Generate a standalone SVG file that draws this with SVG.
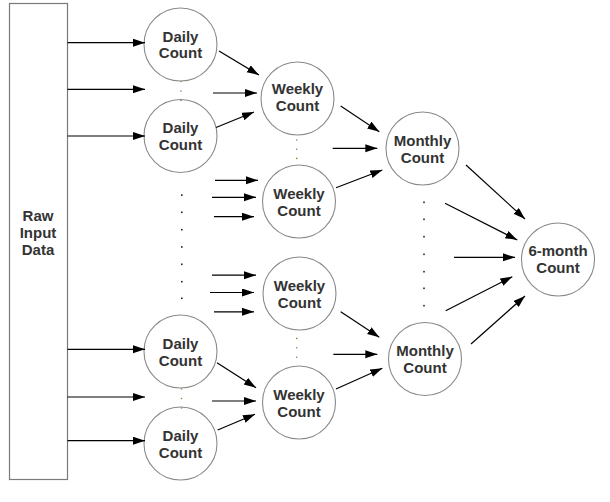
<svg xmlns="http://www.w3.org/2000/svg" width="610" height="502" viewBox="0 0 610 502">
<style>
.node circle{fill:#fff;stroke:#8a8a8a;stroke-width:1.1}
.node rect{fill:#fff;stroke:#7a7a7a;stroke-width:1.2}
text{font-family:"Liberation Sans",Arial,sans-serif;font-weight:bold;font-size:15px;fill:#333;text-anchor:middle}
.conn line{stroke:#000;stroke-width:1.2;marker-end:url(#ah)}
.dot{fill:#222}
.fdot{fill:#a07840}
</style>
<defs>
<marker id="ah" markerUnits="userSpaceOnUse" markerWidth="13" markerHeight="9" refX="12" refY="4" orient="auto">
<path d="M0,0 L12,4 L0,8 Z" fill="#000"/>
</marker>
</defs>
<rect width="610" height="502" fill="#fff"/>
<g id="raw" class="node"><rect x="9.5" y="3.5" width="58" height="476"/><text x="38" y="221">Raw</text><text x="38" y="238">Input</text><text x="38" y="255">Data</text></g>
<g id="daily1" class="node"><circle cx="180.5" cy="44.5" r="36.5"/><text x="180.5" y="41.5">Daily</text><text x="180.5" y="58.3">Count</text></g>
<g id="daily2" class="node"><circle cx="180.5" cy="136" r="36.5"/><text x="180.5" y="133">Daily</text><text x="180.5" y="150">Count</text></g>
<g id="daily3" class="node"><circle cx="180.5" cy="351.5" r="36.5"/><text x="180.5" y="348.5">Daily</text><text x="180.5" y="365.5">Count</text></g>
<g id="daily4" class="node"><circle cx="180.5" cy="443.5" r="36.5"/><text x="180.5" y="440.5">Daily</text><text x="180.5" y="457.5">Count</text></g>
<g id="weekly1" class="node"><circle cx="297.5" cy="98.5" r="36.5"/><text x="297.5" y="93.5">Weekly</text><text x="297.5" y="110.5">Count</text></g>
<g id="weekly2" class="node"><circle cx="299" cy="201.5" r="36.5"/><text x="299" y="198.5">Weekly</text><text x="299" y="215.5">Count</text></g>
<g id="weekly3" class="node"><circle cx="299.5" cy="293.5" r="36.5"/><text x="299.5" y="290.5">Weekly</text><text x="299.5" y="307.5">Count</text></g>
<g id="weekly4" class="node"><circle cx="299" cy="402.5" r="36.5"/><text x="299" y="399.5">Weekly</text><text x="299" y="416.5">Count</text></g>
<g id="monthly1" class="node"><circle cx="422.5" cy="148.5" r="36.5"/><text x="422.5" y="145.5">Monthly</text><text x="422.5" y="162.5">Count</text></g>
<g id="monthly2" class="node"><circle cx="425" cy="359" r="36.5"/><text x="425" y="356">Monthly</text><text x="425" y="373">Count</text></g>
<g id="sixmonth" class="node"><circle cx="558" cy="259.5" r="36.5"/><text x="558" y="256.3">6-month</text><text x="558" y="273.3">Count</text></g>
<g id="dots">
<circle class="fdot" cx="181" cy="81.5" r="0.8"/><circle class="fdot" cx="181" cy="91" r="0.8"/><circle class="fdot" cx="181" cy="100.5" r="0.8"/>
<circle class="fdot" cx="181.5" cy="389" r="0.8"/><circle class="fdot" cx="181.5" cy="398.5" r="0.8"/><circle class="fdot" cx="181.5" cy="408" r="0.8"/>
<circle class="fdot" cx="296.7" cy="140" r="0.8"/><circle class="fdot" cx="296.7" cy="149.2" r="0.8"/><circle class="fdot" cx="296.7" cy="158.4" r="0.8"/>
<circle class="fdot" cx="296.7" cy="338.4" r="0.8"/><circle class="fdot" cx="296.7" cy="347.7" r="0.8"/><circle class="fdot" cx="296.7" cy="357.2" r="0.8"/>
<rect class="dot" x="181" y="194.3" width="1.6" height="1.6"/><rect class="dot" x="181" y="211.5" width="1.6" height="1.6"/><rect class="dot" x="181" y="228.9" width="1.6" height="1.6"/><rect class="dot" x="181" y="246.2" width="1.6" height="1.6"/><rect class="dot" x="181" y="263.5" width="1.6" height="1.6"/><rect class="dot" x="181" y="280.9" width="1.6" height="1.6"/><rect class="dot" x="181" y="297.5" width="1.6" height="1.6"/>
<rect class="dot" x="423.2" y="201.5" width="1.6" height="1.6"/><rect class="dot" x="423.2" y="218.5" width="1.6" height="1.6"/><rect class="dot" x="423.2" y="235.9" width="1.6" height="1.6"/><rect class="dot" x="423.2" y="253.5" width="1.6" height="1.6"/><rect class="dot" x="423.2" y="270.9" width="1.6" height="1.6"/><rect class="dot" x="423.2" y="287.5" width="1.6" height="1.6"/><rect class="dot" x="423.2" y="304.9" width="1.6" height="1.6"/>
</g>
<g id="connectors" class="conn">
<line x1="67.5" y1="42.7" x2="145" y2="42.7"/>
<line x1="67.5" y1="89.3" x2="145" y2="89.3"/>
<line x1="67.5" y1="136" x2="145" y2="136"/>
<line x1="67.5" y1="349.3" x2="145" y2="349.3"/>
<line x1="67.5" y1="397" x2="145" y2="397"/>
<line x1="67.5" y1="440.7" x2="145" y2="440.7"/>
<line x1="219" y1="51" x2="259" y2="75"/>
<line x1="213" y1="93" x2="257" y2="93"/>
<line x1="216" y1="127.5" x2="254" y2="112"/>
<line x1="215" y1="180.3" x2="258" y2="180.3"/>
<line x1="212" y1="197.3" x2="256" y2="197.3"/>
<line x1="214" y1="216.7" x2="254" y2="216.7"/>
<line x1="212" y1="275.2" x2="256" y2="275.2"/>
<line x1="210" y1="292.5" x2="254" y2="292.5"/>
<line x1="214" y1="311.8" x2="254" y2="311.8"/>
<line x1="217" y1="362.7" x2="256" y2="387.7"/>
<line x1="212" y1="401" x2="256" y2="401"/>
<line x1="217.7" y1="430" x2="255" y2="414.3"/>
<line x1="340.7" y1="106" x2="379.3" y2="131.7"/>
<line x1="332.7" y1="148.3" x2="377.3" y2="148.3"/>
<line x1="336" y1="187.7" x2="382.3" y2="170"/>
<line x1="340.7" y1="311.7" x2="379.3" y2="337.3"/>
<line x1="333.3" y1="354.3" x2="377.3" y2="354.3"/>
<line x1="336" y1="389" x2="382.3" y2="368.3"/>
<line x1="466" y1="165" x2="525" y2="219"/>
<line x1="445" y1="203.3" x2="517.3" y2="240"/>
<line x1="454" y1="257.3" x2="515" y2="257.3"/>
<line x1="445.7" y1="310.7" x2="512.3" y2="276.7"/>
<line x1="471" y1="344" x2="525" y2="296"/>
</g>
</svg>
